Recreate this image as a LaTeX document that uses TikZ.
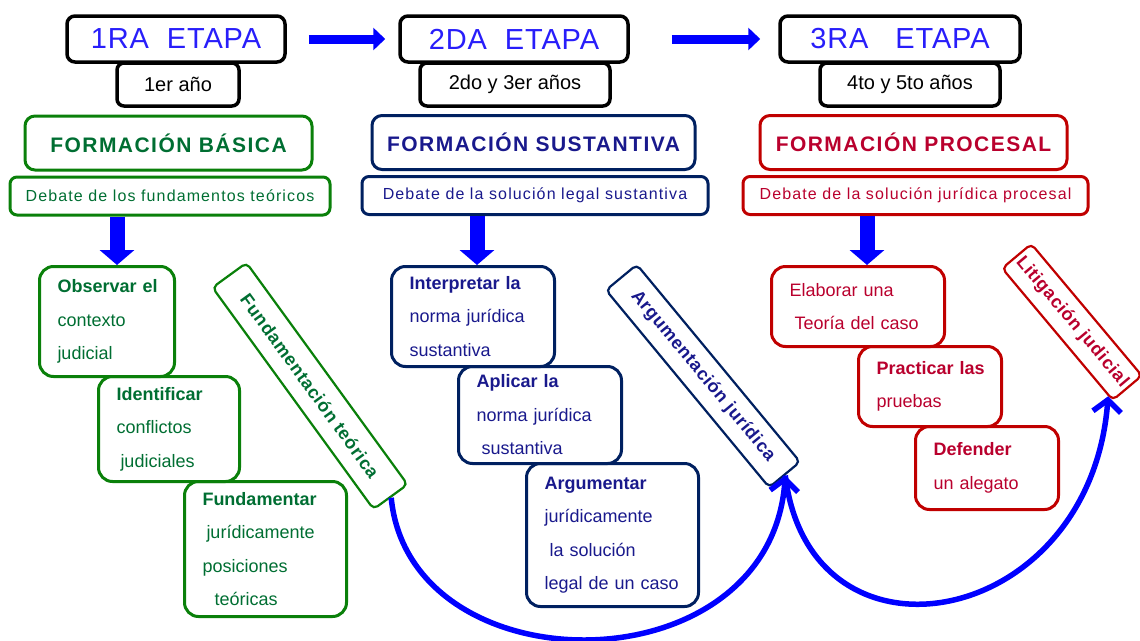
\documentclass[tikz,border=0pt]{standalone}
\usepackage{fontspec}
\setmainfont{Liberation Sans}
\usetikzlibrary{arrows.meta,calc}

\definecolor{etapablue}{RGB}{40,30,250}
\definecolor{verde}{RGB}{10,128,10}
\definecolor{verdetxt}{RGB}{0,110,50}
\definecolor{marino}{RGB}{0,32,96}
\definecolor{marinotxt}{RGB}{25,25,140}
\definecolor{rojo}{RGB}{192,0,0}
\definecolor{rojotxt}{RGB}{185,0,45}

\begin{document}
\begin{tikzpicture}[
  x=1pt, y=-1pt,
  etapa/.style={draw=black, line width=3.5pt, rounded corners=8pt, minimum height=46pt,
    text=etapablue, font=\fontsize{29}{30}\selectfont\addfontfeature{LetterSpace=3}},
  anio/.style={draw=black, line width=3.5pt, rounded corners=7pt, fill=white,
    minimum height=43pt, font=\fontsize{20}{22}\selectfont},
  formacion/.style={line width=3pt, rounded corners=10pt, minimum height=54pt,
    font=\fontsize{21}{24}\selectfont\bfseries\addfontfeature{LetterSpace=7}},
  debate/.style={line width=3pt, rounded corners=7pt, minimum height=38pt,
    font=\fontsize{16}{18}\selectfont\addfontfeature{LetterSpace=7}},
  caja/.style={line width=3pt, rounded corners=14pt, anchor=north west, align=left,
    inner xsep=18pt, font=\fontsize{18}{33.5}\selectfont},
  giro/.style={line width=2.2pt, rounded corners=5pt, inner sep=0pt,
    font=\fontsize{18}{20}\selectfont\bfseries\addfontfeature{LetterSpace=4}},
  paso/.style={-{Triangle[length=12pt,width=22pt]}, line width=9pt, blue},
  baja/.style={-{Triangle[length=15pt,width=34pt]}, line width=15pt, blue},
  curva/.style={-{Straight Barb[length=12pt,width=28pt]}, line width=5.5pt, blue}]

\useasboundingbox (0,0) rectangle (1140,640);

% ---- the three stages and their years ---------------------------------
\node[etapa, minimum width=218pt] (et1) at (176,39) {1RA\ \ ETAPA};
\node[etapa, minimum width=228pt] (et2) at (514,39) {2DA\ \ ETAPA};
\node[etapa, minimum width=240pt] (et3) at (900,39) {3RA\ \ \ ETAPA};
\node[anio, minimum width=122pt] (an1) at (178,84.5) {1er año};
\node[anio, minimum width=190pt] (an2) at (515,84.5) {2do y 3er años};
\node[anio, minimum width=180pt] (an3) at (910,84.5) {4to y 5to años};
\draw[paso, shorten <=22pt, shorten >=13pt] (et1.east) -- (et2.west);
\draw[paso, shorten <=42pt, shorten >=18pt] (et2.east) -- (et3.west);

% ---- kind of training, and what is debated ----------------------------
\node[formacion, draw=verde, text=verdetxt, minimum width=287pt] (fo1) at (168.5,143) {FORMACIÓN BÁSICA};
\node[formacion, draw=marino, text=marinotxt, minimum width=323pt] (fo2) at (533.5,142.5) {FORMACIÓN SUSTANTIVA};
\node[formacion, draw=rojo, text=rojotxt, minimum width=307pt] (fo3) at (913.5,142.5) {FORMACIÓN PROCESAL};
\node[debate, draw=verde, text=verdetxt, minimum width=320pt] (de1) at (170,196) {Debate de los fundamentos teóricos};
\node[debate, draw=marino, text=marinotxt, minimum width=346pt] (de2) at (535,195.5) {Debate de la solución legal sustantiva};
\node[debate, draw=rojo, text=rojotxt, minimum width=345pt] (de3) at (915.5,195.5) {Debate de la solución jurídica procesal};

% ======================= first stage (green) ===========================
\node[caja, draw=verde, text=verdetxt, minimum width=135pt, minimum height=110pt, text width=99pt] (ob) at (38,265)
  {\mbox{\textbf{Observar el}}\\contexto\\judicial};
\node[caja, draw=verde, text=verdetxt, minimum width=141pt, minimum height=105pt, text width=105pt] (id) at (97,375)
  {\textbf{Identificar}\\conflictos\\\hspace*{4pt}judiciales};
\node[caja, draw=verde, text=verdetxt, minimum width=162pt, minimum height=135pt, text width=126pt] (fu) at (183,480)
  {\textbf{Fundamentar}\\\hspace*{4pt}jurídicamente\\posiciones\\\hspace*{12pt}teóricas};
\draw[baja] ([xshift=10pt]ob.north |- de1.south) -- ([xshift=10pt]ob.north);

% ======================= second stage (navy) ===========================
\node[caja, draw=marino, text=marinotxt, minimum width=163pt, minimum height=100pt, text width=127pt] (in) at (390,265)
  {\textbf{Interpretar la}\\norma jurídica\\sustantiva};
\node[caja, draw=marino, text=marinotxt, minimum width=163pt, minimum height=97pt, text width=127pt] (ap) at (457,365)
  {\textbf{Aplicar la}\\norma jurídica\\\hspace*{5pt}sustantiva};
\node[caja, draw=marino, text=marinotxt, minimum width=172pt, minimum height=143pt, text width=136pt] (ar) at (525,462)
  {\textbf{Argumentar}\\jurídicamente\\\hspace*{5pt}la solución\\legal de un caso};
\draw[baja] ([xshift=4pt]in.north |- de2.south) -- ([xshift=4pt]in.north);

% ======================= third stage (red) =============================
\node[caja, draw=rojo, text=rojotxt, minimum width=173pt, minimum height=80pt, text width=137pt] (el) at (770,265)
  {Elaborar una\\\hspace*{5pt}Teoría del caso};
\node[caja, draw=rojo, text=rojotxt, minimum width=143pt, minimum height=80pt, text width=107pt] (pr) at (857,345)
  {\mbox{\textbf{Practicar las}}\\pruebas};
\node[caja, draw=rojo, text=rojotxt, minimum width=143pt, minimum height=83pt, text width=107pt] (df) at (914,425)
  {\textbf{Defender}\\un alegato};
\draw[baja] ([xshift=9pt]el.north |- de3.south) -- ([xshift=9pt]el.north);

% ---- the slanted labels and the arcs that join them -------------------
\node[giro, draw=verde, text=verdetxt, rotate=-54, minimum width=274pt, minimum height=42pt] (ft) at (310,386) {Fundamentación teórica};
\node[giro, draw=marino, text=marinotxt, rotate=-50.4, minimum width=256pt, minimum height=40pt] (aj) at (703,376) {Argumentación jurídica};
\node[giro, draw=rojo, text=rojotxt, rotate=-50, minimum width=172pt, minimum height=38pt] (lj) at (1072,322) {Litigación judicial};
\draw[curva] (ft.east) .. controls (410,690) and (770,690) .. (aj.east);
\draw[curva] (aj.east) .. controls (810,680) and (1090,630) .. ($(lj.south east)!0.08!(lj.south)$);

\end{tikzpicture}
\end{document}
